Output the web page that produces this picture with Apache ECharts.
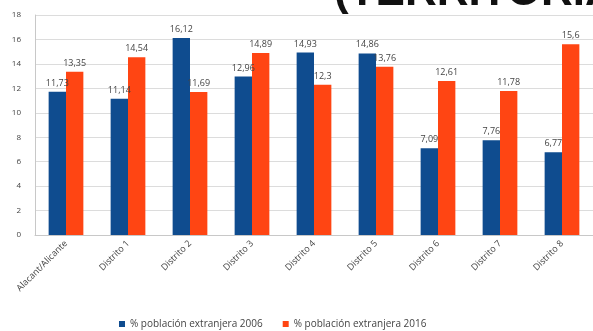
<!DOCTYPE html>
<html>
<head>
<meta charset="utf-8">
<script src="https://cdn.jsdelivr.net/npm/echarts@6/dist/echarts.min.js"></script>
<style>
  html, body { margin: 0; padding: 0; background: #fff; }
  #chart { width: 593px; height: 331px; }
</style>
</head>
<body>
<div id="chart"></div>
<script>
// Foreign population share by district, 2006 vs 2016
const categories = ['Alacant/Alicante', 'Distrito 1', 'Distrito 2', 'Distrito 3', 'Distrito 4',
                    'Distrito 5', 'Distrito 6', 'Distrito 7', 'Distrito 8'];
const pct2006 = [11.73, 11.14, 16.12, 12.96, 14.93, 14.86, 7.09, 7.76, 6.77];
const pct2016 = [13.35, 14.54, 11.69, 14.89, 12.3, 13.76, 12.61, 11.78, 15.6];
const seriesNames = ['% población extranjera 2006', '% población extranjera 2016'];
const yTicks = { min: 0, max: 18, interval: 2 };

const fontFam = '"Open Sans", "Liberation Sans", sans-serif';
const fmt = p => String(p.value).replace('.', ',');

const chart = echarts.init(document.getElementById('chart'), null, { renderer: 'canvas' });
chart.setOption({
  animation: false,
  backgroundColor: '#fff',
  graphic: [{
    type: 'text',
    x: 334,
    y: 15,
    style: {
      text: '(TERRITORIAL)',
      font: 'bold 44px "Liberation Sans", sans-serif',
      fill: '#111',
      verticalAlign: 'bottom'
    }
  }],
  grid: { left: 35, right: 0, top: 15, bottom: 96 },
  legend: {
    top: 314,
    left: 114,
    itemWidth: 6,
    itemHeight: 6,
    itemGap: 20,
    icon: 'rect',
    textStyle: { fontSize: 10, color: '#444', fontFamily: fontFam },
    data: seriesNames
  },
  xAxis: {
    type: 'category',
    data: categories,
    axisLine: { lineStyle: { color: '#c8c8c8' } },
    axisTick: { show: false },
    axisLabel: { rotate: 45, fontSize: 9, color: '#444', fontFamily: fontFam, interval: 0, margin: 7 }
  },
  yAxis: {
    type: 'value',
    min: yTicks.min,
    max: yTicks.max,
    interval: yTicks.interval,
    axisLine: { show: true, lineStyle: { color: '#c8c8c8' } },
    axisTick: { show: false },
    axisLabel: { fontSize: 8, color: '#444', fontFamily: fontFam, margin: 14 },
    splitLine: { lineStyle: { color: '#dcdcdc' } }
  },
  series: [
    {
      name: seriesNames[0], type: 'bar', data: pct2006,
      itemStyle: { color: '#0F4C8F' },
      barGap: '0%', barCategoryGap: '44%',
      label: { show: true, position: 'top', fontSize: 9, color: '#444', fontFamily: fontFam, formatter: fmt, distance: 4 }
    },
    {
      name: seriesNames[1], type: 'bar', data: pct2016,
      itemStyle: { color: '#FF4513' },
      barGap: '0%', barCategoryGap: '44%',
      label: { show: true, position: 'top', fontSize: 9, color: '#444', fontFamily: fontFam, formatter: fmt, distance: 4 }
    }
  ]
});
</script>
</body>
</html>
